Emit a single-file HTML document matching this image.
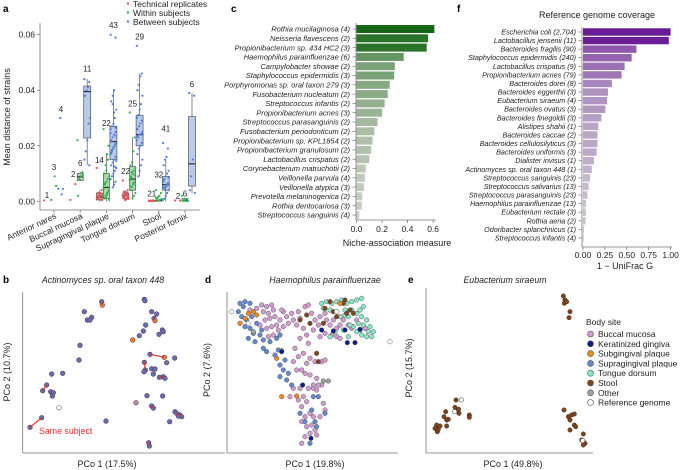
<!DOCTYPE html>
<html><head><meta charset="utf-8">
<style>
html,body{margin:0;padding:0;background:#fff;}
svg{display:block;font-family:"Liberation Sans",Arial,sans-serif;}
</style></head>
<body>
<svg id="fig" width="685" height="470" viewBox="0 0 685 470" xmlns="http://www.w3.org/2000/svg"></svg>
<script>
// ---------- Panel a data ----------
const aSites = ["Anterior nares","Buccal mucosa","Supragingival plaque","Tongue dorsum","Stool","Posterior fornix"];
const aTicks = [0, 0.02, 0.04, 0.06];
const aTickLabels = ["0.00","0.02","0.04","0.06"];
const aTech = [[0.0003],[0.0005,0.0062],[0.012,0.004,0.003,0.002,0.001,0.0005,0.002,0.0015,0.003,0.001,0.0005,0.0025,0.0008,0.0018],[0.0075,0.004,0.003,0.0025,0.002,0.0015,0.001,0.0005,0.0035,0.002,0.0018,0.0022,0.0028,0.0012,0.0008,0.0032,0.0024,0.0016,0.0019,0.0026,0.0021,0.0006],[0.0002,0.0001,0.0003,0.0002,0.0001,0.0002,0.0003,0.0001,0.0002,0.0001],[0.0003,0.0003]];
const aWithin = [[0.0005,0.0055,0.009],[0.022,0.0105,0.009,0.008,0.002,0.0095],[0.026,0.020,0.017,0.013,0.010,0.009,0.008,0.007,0.006,0.005,0.004,0.003,0.002,0.001,0.0005,0.015,0.011,0.0065,0.0045,0.0035,0.0025,0.0015],[0.032,0.023,0.018,0.014,0.013,0.012,0.011,0.010,0.009,0.008,0.007,0.006,0.005,0.004,0.003,0.002,0.001,0.0085,0.0075,0.0095,0.0065,0.0105,0.0055],[0.004,0.003,0.002,0.0015,0.001,0.0008,0.0005,0.0003,0.0002,0.0012],[0.002,0.0008,0.0005,0.0003,0.0002,0.0001]];
const aBetween = [[0.0045,0.0045,0.0025,0.030],[0.044,0.043,0.041,0.040,0.038,0.030,0.028,0.022,0.018,0.015,0.013],[0.060,0.059,0.040,0.038,0.036,0.033,0.030,0.028,0.027,0.026,0.025,0.024,0.023,0.022,0.021,0.020,0.019,0.018,0.017,0.016,0.015,0.014,0.013,0.012,0.011,0.010,0.009,0.008,0.007,0.006,0.005,0.0215,0.0235,0.0205,0.0195,0.0185,0.0245,0.0265,0.032,0.035,0.0175,0.0145,0.0125],[0.056,0.046,0.045,0.042,0.040,0.038,0.035,0.033,0.031,0.030,0.029,0.028,0.027,0.026,0.025,0.024,0.024,0.023,0.022,0.021,0.020,0.019,0.017,0.015,0.013,0.011,0.009,0.0235,0.0245],[0.021,0.019,0.016,0.015,0.013,0.011,0.010,0.009,0.008,0.007,0.006,0.006,0.005,0.005,0.004,0.003,0.002,0.001,0.0005,0.0065,0.0055,0.0045,0.0075,0.0085],[0.039,0.038,0.015,0.009,0.004,0.003]];
// box stats: [whiskerLo, q1, median, q3, whiskerHi] or null
const aBoxTech = [null,null,[0,0.0005,0.0015,0.003,0.004],[0,0.001,0.002,0.003,0.004],[0,0,0.0001,0.0002,0.0003],null];
const aBoxWithin = [null,[0.0075,0.0075,0.0088,0.010,0.0105],[0,0.001,0.005,0.010,0.017],[0.001,0.004,0.008,0.0125,0.023],[0,0.0001,0.0002,0.0004,0.001],[0,0,0.0003,0.001,0.001]];
const aBoxBetween = [null,[0.013,0.0228,0.0395,0.0415,0.044],[0.005,0.015,0.0215,0.027,0.040],[0.009,0.020,0.024,0.031,0.046],[0,0.004,0.006,0.009,0.015],[0.003,0.0055,0.0135,0.0305,0.039]];
const aCountTech = [1,2,14,22,21,2];
const aCountWithin = [3,6,22,25,32,6];
const aCountBetween = [4,11,43,29,41,6];
const aCountTechY = [0.0012,0.0088,0.0138,0.0098,0.0018,0.0008];
const aCountWithinY = [0.0112,0.0128,0.0272,0.0342,0.0085,0.0018];
const aCountBetweenY = [0.0322,0.0468,0.0625,0.0582,0.0252,0.0412];

// ---------- Panel c data ----------
const cNames = ["Rothia mucilaginosa (4)","Neisseria flavescens (2)","Propionibacterium sp. 434 HC2 (3)","Haemophilus parainfluenzae (6)","Campylobacter showae (2)","Staphylococcus epidermidis (3)","Porphyromonas sp. oral taxon 279 (3)","Fusobacterium nucleatum (2)","Streptococcus infantis (2)","Propionibacterium acnes (3)","Streptococcus parasanguinis (2)","Fusobacterium periodonticum (2)","Propionibacterium sp. KPL1854 (2)","Propionibacterium granulosum (2)","Lactobacillus crispatus (2)","Corynebacterium matruchotii (2)","Veillonella parvula (4)","Veillonella atypica (3)","Prevotella melaninogenica (2)","Rothia dentocariosa (3)","Streptococcus sanguinis (4)"];
const cValues = [0.61,0.56,0.55,0.37,0.30,0.295,0.26,0.245,0.22,0.20,0.165,0.14,0.125,0.115,0.10,0.072,0.065,0.058,0.045,0.042,0.022];
const cTicks = [0,0.2,0.4,0.6];
const cTickLabels = ["0.0","0.2","0.4","0.6"];

// ---------- Panel f data ----------
const fNames = ["Escherichia coli (2,704)","Lactobacillus jensenii (11)","Bacteroides fragilis (90)","Staphylococcus epidermidis (240)","Lactobacillus crispatus (9)","Propionibacterium acnes (79)","Bacteroides dorei (8)","Bacteroides eggerthii (3)","Eubacterium siraeum (4)","Bacteroides ovatus (3)","Bacteroides finegoldii (3)","Alistipes shahii (1)","Bacteroides caccae (2)","Bacteroides cellulosilyticus (3)","Bacteroides uniformis (3)","Dialister invisus (1)","Actinomyces sp. oral taxon 448 (1)","Streptococcus sanguinis (23)","Streptococcus salivarius (13)","Streptococcus parasanguinis (23)","Haemophilus parainfluenzae (13)","Eubacterium rectale (3)","Rothia aeria (2)","Odoribacter splanchnicus (1)","Streptococcus infantis (4)"];
const fValues = [1.0,0.98,0.61,0.555,0.475,0.44,0.33,0.285,0.275,0.255,0.21,0.175,0.165,0.165,0.155,0.125,0.10,0.08,0.065,0.05,0.035,0.033,0.03,0.012,0.01];
const fTicks = [0,0.25,0.5,0.75,1.0];
const fTickLabels = ["0.00","0.25","0.50","0.75","1.00"];

// ---------- Panel b data (PCo scores, arbitrary units) ----------
const bPco1 = [305,307,253,262,275,270,433,435,455,470,462,465,437,430,487,490,477,418,398,240,450,493,524,237,500,433,436,455,465,432,460,490,495,478,155,188,140,128,152,160,157,408,441,488,455,460,525,530,540,545,535,125,90,318,509,446,448,177];
const bPco2 = [95,105,125,150,142,150,88,92,125,132,145,152,165,183,180,185,193,197,210,226,253,262,264,270,278,277,300,296,297,305,312,320,325,322,312,310,345,362,365,368,378,398,377,378,408,414,425,430,435,440,438,443,472,453,455,518,528,413];
const bSite = [0,1,0,0,0,0,0,0,0,0,0,1,0,0,0,0,0,0,1,0,0,1,0,0,0,0,0,0,0,0,0,0,0,0,0,0,0,0,0,0,0,2,0,0,0,0,0,0,0,0,0,0,0,0,0,0,0,3];
const bPairA = [0,10,20,25,33,36,51,44,55,47];
const bPairB = [1,11,21,26,31,37,52,45,56,49];

// ---------- Panel d data ----------
const dSites = ["Buccal mucosa","Keratinized gingiva","Subgingival plaque","Supragingival plaque","Tongue dorsum","Stool","Other","Reference genome"];
const dColors = ["#d59ad3","#0b1d8c","#ec8a1c","#6089cf","#84e9c4","#7b4522","#a0a0a0","#ffffff"];
const dBuccal1 = [95,110,125,100,115,130,120,135,105,90,110,125,140,150,160,170,185,175,190,205,210,200,220,225,235,245,255,265,250,270,285,290,300,310,320,330,340,355,365,380,390,405,320,330,305,285,270,160,145,130,115,230,235,210,195,220,205,230,190,240,255,275,285,215,200,225,240,260,275,250,235,210,190,180,205,220,230,215,250,265,260,280,285,240,225,215,230,245,255,240,225,215,260,250,270,155,60,80];
const dBuccal2 = [105,110,105,125,130,120,145,140,150,165,175,170,165,150,125,140,130,160,150,125,145,165,175,110,105,130,150,165,180,140,130,150,165,150,175,165,150,165,175,150,180,175,200,205,195,190,200,170,180,195,200,195,220,205,235,250,260,280,275,265,275,275,270,300,300,310,315,325,345,345,355,355,355,380,390,380,395,410,355,345,360,400,420,430,440,455,470,465,480,490,500,520,495,440,440,120,120,115];
const dSupra1 = [30,45,60,40,25,35,50,65,80,60,45,70,90,55,75,95,100,120,140,150,145,135,165,150,160,175,170,185,150,210,225,245,255,260,240,265,285,250,100,110];
const dSupra2 = [100,95,100,110,125,140,150,140,160,175,170,190,195,205,215,180,210,215,205,195,240,255,270,285,300,310,330,345,320,430,455,420,455,470,520,380,430,380,235,245];
const dTongue1 = [275,290,305,320,335,350,365,380,395,300,320,345,365,380,395,410,420,430,425,410,395,380,370,400,415,385,355,340,300,315,355,400,280,360,345,330,390];
const dTongue2 = [100,95,100,95,90,100,95,90,85,120,125,120,120,130,140,150,170,185,200,200,195,185,170,165,185,160,140,180,200,185,200,110,115,165,135,140,120];
const dStool1 = [300,340,360,370,285,310,345,230,240,210,280,320,265,260,350];
const dStool2 = [95,100,120,130,115,125,90,135,160,150,160,140,275,250,130];
const dSub1 = [55,70,80,45,30,140,155,155,200,330];
const dSub2 = [130,125,135,145,160,265,242,380,378,100];
const dKer1 = [275,310,345,352,375,155,218,243,390];
const dKer2 = [180,183,180,218,218,245,345,505,178];
const dOther1 = [280,295,70];
const dOther2 = [333,333,185];
const dRef1 = [5,480,55,320];
const dRef2 = [125,215,160,125];

// ---------- Panel e data ----------
const ePco1 = [165,172,170,180,175,192,197,200,200,205,225,228,233,237,236,268,268,550,555,553,560,570,567,552,565,575,583,570,583,587,570,610,605,610,615,610];
const ePco2 = [475,485,465,468,478,440,425,450,468,448,412,390,420,430,418,435,442,78,90,100,95,125,143,420,440,435,432,450,465,470,480,492,510,515,520,525];
const eRef1 = [244,224,608];
const eRef2 = [390,425,512];
const eLegend = ["Buccal mucosa","Keratinized gingiva","Subgingival plaque","Supragingival plaque","Tongue dorsum","Stool","Other","Reference genome"];

// ---------- helpers ----------
const NS = "http://www.w3.org/2000/svg";
const svg = document.getElementById("fig");
function mk(tag, attrs, name, parent) {
  const e = document.createElementNS(NS, tag);
  for (const k in attrs) e.setAttribute(k, attrs[k]);
  
  
  (parent || svg).appendChild(e);
  return e;
}
function txt(x, y, s, attrs, name, parent) {
  const t = mk("text", Object.assign({x: x, y: y}, attrs), name, parent);
  t.textContent = s;
  return t;
}
function line(x1, y1, x2, y2, st, sw, name) {
  return mk("line", {x1, y1, x2, y2, stroke: st, "stroke-width": sw}, name);
}
function lerpColor(a, b, t) {
  const r = Math.round(a[0] + (b[0] - a[0]) * t), g = Math.round(a[1] + (b[1] - a[1]) * t), bl = Math.round(a[2] + (b[2] - a[2]) * t);
  return "rgb(" + r + "," + g + "," + bl + ")";
}
const AX = "#777";

// ================= Panel a =================
txt(3, 12, "a", {"font-size": 10, "font-weight": "bold"}, "panel-a-label");
const ay = v => 201.3 - v * 2776.7;
const aSiteX = i => 54 + i * 26.2;
line(40, 23, 40, 210, AX, 0.8, "a-y-axis");
line(40, 210, 200, 210, AX, 0.8, "a-x-axis");
aTicks.forEach((t, i) => {
  line(37, ay(t), 40, ay(t), AX, 0.8, "a-y-tick");
  txt(35, ay(t) + 3, aTickLabels[i], {"font-size": 8.5, "text-anchor": "end", fill: "#222"}, "a-y-tick-label");
});
txt(0, 0, "Mean distance of strains", {"font-size": 9, "text-anchor": "middle", transform: "translate(10,117) rotate(-90)", fill: "#222"}, "a-y-axis-title");
aSites.forEach((s, i) => {
  const x = aSiteX(i);
  line(x, 210, x, 213, AX, 0.8, "a-x-tick");
  txt(0, 0, s, {"font-size": 8.5, "text-anchor": "end", fill: "#222", transform: "translate(" + (x + 3) + ",218) rotate(-25)"}, "a-x-tick-label");
});
const aGroups = [
  {pts: aTech, box: aBoxTech, cnt: aCountTech, cy: aCountTechY, off: -7, pc: "#e05858", bc: "#e9a3a3", w: 6, n: "technical"},
  {pts: aWithin, box: aBoxWithin, cnt: aCountWithin, cy: aCountWithinY, off: 0, pc: "#2fb24e", bc: "#a9dba9", w: 6, n: "within"},
  {pts: aBetween, box: aBoxBetween, cnt: aCountBetween, cy: aCountBetweenY, off: 7, pc: "#4f7fe0", bc: "#b9cbea", w: 7, n: "between"}
];
aGroups.forEach(g => {
  aSites.forEach((s, i) => {
    const cx = aSiteX(i) + g.off;
    const b = g.box[i];
    if (b) {
      line(cx, ay(b[0]), cx, ay(b[4]), "#555", 0.7, "a-whisker-" + g.n);
      mk("rect", {x: cx - g.w / 2, y: ay(b[3]), width: g.w, height: Math.max(0.8, ay(b[1]) - ay(b[3])), fill: g.bc, stroke: "#555", "stroke-width": 0.7}, "a-box-" + g.n);
      line(cx - g.w / 2, ay(b[2]), cx + g.w / 2, ay(b[2]), "#222", 1.1, "a-median-" + g.n);
    }
    g.pts[i].forEach((v, k) => {
      const dx = ((k * 7) % 9 - 4) * 0.7;
      mk("circle", {cx: cx + dx, cy: ay(v), r: 1.1, fill: g.pc}, "a-point-" + g.n);
    });
    txt(cx, ay(g.cy[i]), String(g.cnt[i]), {"font-size": 8, "text-anchor": "middle", fill: "#222"}, "a-count-label");
  });
});
[["Technical replicates", "#e05858", 6], ["Within subjects", "#2fb24e", 15], ["Between subjects", "#4f7fe0", 24]].forEach(l => {
  mk("circle", {cx: 128, cy: l[2] - 2.5, r: 1.2, fill: l[1]}, "a-legend-marker");
  txt(133, l[2] + 1, l[0], {"font-size": 8.5, fill: "#222"}, "a-legend-entry");
});

// ================= Panel c =================
txt(231, 12, "c", {"font-size": 10, "font-weight": "bold"}, "panel-c-label");
const cx = v => 356.5 + v * 127.7;
const cy = i => 29 + i * 9.3;
const cMax = Math.max(...cValues);
cNames.forEach((n, i) => {
  const v = cValues[i];
  mk("rect", {x: cx(0), y: cy(i) - 4, width: cx(v) - cx(0), height: 8, fill: lerpColor([208, 210, 203], [22, 104, 22], Math.pow(v / cMax, 1.1))}, "c-bar");
  line(352.5, cy(i), 356, cy(i), AX, 0.7, "c-y-tick");
  txt(350, cy(i) + 2.7, n, {"font-size": 7.5, "font-style": "italic", "text-anchor": "end", fill: "#222"}, "c-category-label");
});
line(356, 23, 356, 220, AX, 0.8, "c-y-axis");
line(356, 220, 436, 220, AX, 0.8, "c-x-axis");
cTicks.forEach((t, i) => {
  line(cx(t), 220, cx(t), 223, AX, 0.8, "c-x-tick");
  txt(cx(t), 232, cTickLabels[i], {"font-size": 8.5, "text-anchor": "middle", fill: "#222"}, "c-x-tick-label");
});
txt(397, 246, "Niche-association measure", {"font-size": 9, "text-anchor": "middle", fill: "#222"}, "c-x-axis-title");

// ================= Panel f =================
txt(457, 12, "f", {"font-size": 10, "font-weight": "bold"}, "panel-f-label");
txt(597, 18, "Reference genome coverage", {"font-size": 9, "text-anchor": "middle", fill: "#222"}, "f-title");
const fx = v => 583 + v * 87.6;
const fy = i => 32 + i * 8.58;
fNames.forEach((n, i) => {
  const v = fValues[i];
  mk("rect", {x: fx(0), y: fy(i) - 3.7, width: fx(v) - fx(0), height: 7.4, fill: lerpColor([206, 201, 211], [106, 27, 150], Math.pow(v, 0.9))}, "f-bar");
  line(578.5, fy(i), 582, fy(i), AX, 0.7, "f-y-tick");
  txt(576, fy(i) + 2.5, n, {"font-size": 7.2, "font-style": "italic", "text-anchor": "end", fill: "#222"}, "f-category-label");
});
line(582, 27, 582, 247, AX, 0.8, "f-y-axis");
line(582, 247, 672, 247, AX, 0.8, "f-x-axis");
fTicks.forEach((t, i) => {
  line(fx(t), 247, fx(t), 250, AX, 0.8, "f-x-tick");
  txt(fx(t), 258, fTickLabels[i], {"font-size": 8.5, "text-anchor": "middle", fill: "#222"}, "f-x-tick-label");
});
txt(625, 269, "1 − UniFrac G", {"font-size": 9, "text-anchor": "middle", fill: "#222"}, "f-x-axis-title");

// ================= Panel b =================
txt(3, 283, "b", {"font-size": 10, "font-weight": "bold"}, "panel-b-label");
txt(103, 283, "Actinomyces sp. oral taxon 448", {"font-size": 8.8, "font-style": "italic", "text-anchor": "middle", fill: "#222"}, "b-title");
const bx = v => v / 3;
const by = v => 270 + v / 3;
line(22.7, 292, 22.7, 453, AX, 0.8, "b-y-axis");
line(22.7, 453, 225, 453, AX, 0.8, "b-x-axis");
txt(0, 0, "PCo 2 (10.7%)", {"font-size": 9, "text-anchor": "middle", transform: "translate(10,372) rotate(-90)", fill: "#222"}, "b-y-axis-title");
txt(107, 467, "PCo 1 (17.5%)", {"font-size": 9, "text-anchor": "middle", fill: "#222"}, "b-x-axis-title");
const bFill = ["#5a72b6", "#e4862a", "#b890b8", "#ffffff"];
const bStroke = ["#6a2f52", "#6a2f52", "#6a2f52", "#555"];
bPco1.forEach((v, i) => {
  mk("circle", {cx: bx(v), cy: by(bPco2[i]), r: 2.3, fill: bFill[bSite[i]], stroke: bStroke[bSite[i]], "stroke-width": 0.6}, "b-point");
});
bPairA.forEach((a, k) => {
  const b = bPairB[k];
  line(bx(bPco1[a]), by(bPco2[a]), bx(bPco1[b]), by(bPco2[b]), "#e52a2a", 1.2, "b-same-subject-line");
});
txt(39, 434, "Same subject", {"font-size": 8.8, fill: "#e52a2a"}, "b-same-subject-label");

// ================= Panel d =================
txt(205, 283, "d", {"font-size": 10, "font-weight": "bold"}, "panel-d-label");
txt(325, 283, "Haemophilus parainfluenzae", {"font-size": 8.8, "font-style": "italic", "text-anchor": "middle", fill: "#222"}, "d-title");
const dx = v => 230 + v / 3;
const dy = v => 270 + v / 3;
line(227, 292, 227, 453, AX, 0.8, "d-y-axis");
line(227, 453, 398, 453, AX, 0.8, "d-x-axis");
txt(0, 0, "PCo 2 (7.6%)", {"font-size": 9, "text-anchor": "middle", transform: "translate(210,370) rotate(-90)", fill: "#222"}, "d-y-axis-title");
txt(315, 467, "PCo 1 (19.8%)", {"font-size": 9, "text-anchor": "middle", fill: "#222"}, "d-x-axis-title");
function dSeries(xs, ys, ci, nm) {
  xs.forEach((v, i) => {
    mk("circle", {cx: dx(v), cy: dy(ys[i]), r: 2.3, fill: dColors[ci], stroke: ci === 7 ? "#666" : "#555", "stroke-width": 0.5}, nm);
  });
}
dSeries(dBuccal1, dBuccal2, 0, "d-point-buccal");
dSeries(dSupra1, dSupra2, 3, "d-point-supragingival");
dSeries(dTongue1, dTongue2, 4, "d-point-tongue");
dSeries(dStool1, dStool2, 5, "d-point-stool");
dSeries(dSub1, dSub2, 2, "d-point-subgingival");
dSeries(dKer1, dKer2, 1, "d-point-keratinized");
dSeries(dOther1, dOther2, 6, "d-point-other");
dSeries(dRef1, dRef2, 7, "d-point-reference");

// ================= Panel e =================
txt(408, 283, "e", {"font-size": 10, "font-weight": "bold"}, "panel-e-label");
txt(505, 283, "Eubacterium siraeum", {"font-size": 8.8, "font-style": "italic", "text-anchor": "middle", fill: "#222"}, "e-title");
const ex = v => 380 + v / 3;
const ey = v => 270 + v / 3;
line(426, 288, 426, 453, AX, 0.8, "e-y-axis");
line(426, 453, 593, 453, AX, 0.8, "e-x-axis");
txt(0, 0, "PCo 2 (15.7%)", {"font-size": 9, "text-anchor": "middle", transform: "translate(412,368) rotate(-90)", fill: "#222"}, "e-y-axis-title");
txt(513, 467, "PCo 1 (49.8%)", {"font-size": 9, "text-anchor": "middle", fill: "#222"}, "e-x-axis-title");
ePco1.forEach((v, i) => {
  mk("circle", {cx: ex(v), cy: ey(ePco2[i]), r: 2.2, fill: "#7b4522", stroke: "#4a2810", "stroke-width": 0.5}, "e-point-stool");
});
eRef1.forEach((v, i) => {
  mk("circle", {cx: ex(v), cy: ey(eRef2[i]), r: 2.2, fill: "#fff", stroke: "#555", "stroke-width": 0.6}, "e-point-reference");
});
txt(586, 325, "Body site", {"font-size": 8.5, fill: "#222"}, "legend-title");
eLegend.forEach((n, i) => {
  const y = 334 + i * 9.8;
  mk("circle", {cx: 590.5, cy: y, r: 3, fill: dColors[i], stroke: "#555", "stroke-width": 0.6}, "legend-marker");
  txt(598, y + 3, n, {"font-size": 8.5, fill: "#222"}, "legend-entry");
});
</script>
</body></html>
